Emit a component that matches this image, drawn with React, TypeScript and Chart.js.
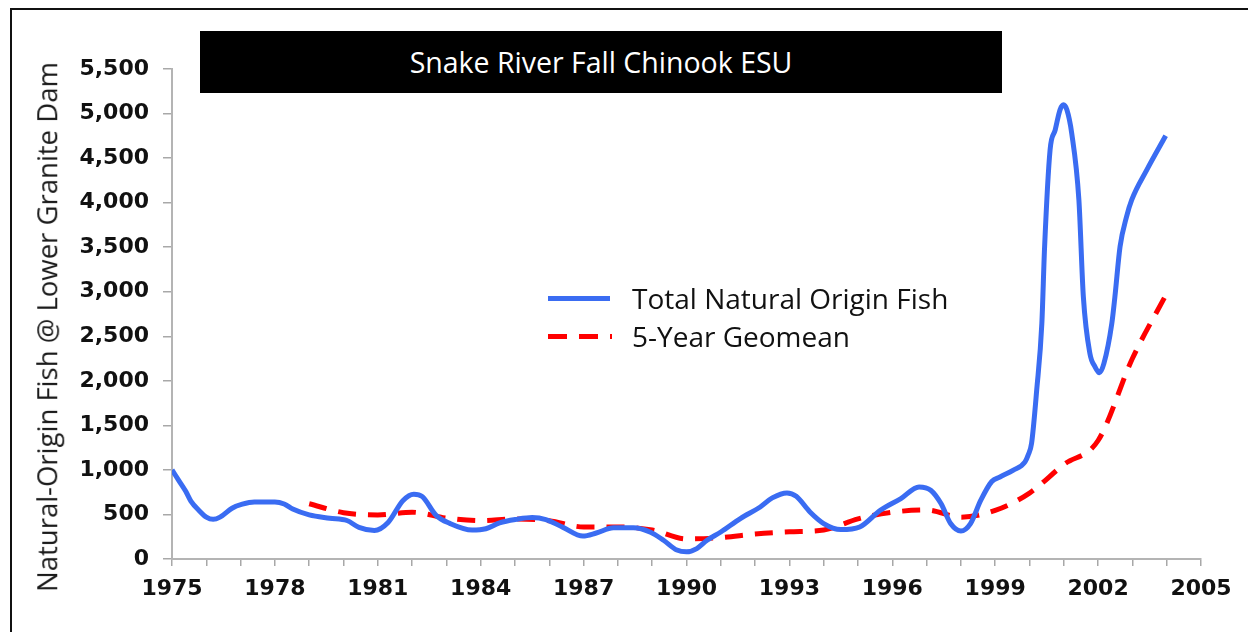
import React, { useEffect, useRef } from "react";
import { Chart, registerables } from "chart.js";

Chart.register(...registerables);

// Total natural-origin fish (fractional years)
const fishYears = [
  1975.0, 1975.2, 1975.4, 1975.55, 1975.8, 1976.0, 1976.2, 1976.4, 1976.75, 1977.05,
  1977.4, 1978.0, 1978.27, 1978.52, 1979.0, 1979.6, 1980.1, 1980.45, 1980.9, 1981.3,
  1981.73, 1982.05, 1982.3, 1982.7, 1983.1, 1983.75, 1984.15, 1984.55, 1985.05, 1985.5,
  1985.9, 1986.4, 1986.98, 1987.37, 1987.87, 1988.45, 1988.95, 1989.33, 1989.72, 1990.0,
  1990.3, 1990.6, 1991.0, 1991.57, 1992.15, 1992.5, 1992.93, 1993.2, 1993.6, 1994.0,
  1994.5, 1995.05, 1995.65, 1996.25, 1996.78, 1997.12, 1997.42, 1997.7, 1998.0, 1998.28,
  1998.58, 1998.9, 1999.14, 1999.53, 1999.87, 1999.96, 2000.06, 2000.21, 2000.36, 2000.44,
  2000.6, 2000.75, 2000.89, 2000.99, 2001.09, 2001.23, 2001.44, 2001.57, 2001.76, 2001.91,
  2002.04, 2002.17, 2002.4, 2002.49, 2002.64, 2002.83, 2002.98, 2003.42, 2003.97,
];
const fishValues = [
  1000, 880, 760, 650, 540, 470, 445, 470, 570, 615,
  640, 640, 618, 560, 495, 458, 432, 355, 320, 410,
  655, 728, 700, 490, 400, 325, 340, 405, 445, 465,
  443, 355, 258, 292, 350, 350, 300, 210, 100, 80,
  117, 210, 303, 454, 584, 686, 742, 704, 528, 398,
  330, 360, 547, 678, 809, 772, 622, 398, 315, 398,
  660, 870, 921, 997, 1090, 1165, 1297, 1896, 2645, 3500,
  4592, 4817, 5042, 5098, 5042, 4780, 4030, 2944, 2308, 2157,
  2090, 2195, 2645, 2944, 3506, 3843, 4030, 4367, 4750,
];

// 5-year geometric mean
const geoYears = [
  1979, 1980, 1981, 1982, 1983, 1984, 1985, 1986, 1987, 1988, 1989, 1990, 1991,
  1992, 1993, 1994, 1995, 1996, 1997, 1998, 1999, 2000, 2001, 2002, 2003, 2004,
];
const geoValues = [
  620, 520, 495, 525, 460, 430, 450, 430, 360, 360, 325, 225, 240,
  280, 305, 325, 450, 525, 550, 470, 545, 740, 1060, 1330, 2250, 2980,
];

const xMin = 1975;
const xMax = 2005;
const yMax = 5500;
const yStep = 500;

const titleText = "Snake River Fall Chinook ESU";
const yTitleText = "Natural-Origin Fish @ Lower Granite Dam";
const seriesNames = ["Total Natural Origin Fish", "5-Year Geomean"];

const BLUE = "rgb(58,108,242)";
const RED = "#ff0000";

export default function App() {
  const canvasRef = useRef<HTMLCanvasElement | null>(null);

  useEffect(() => {
    if (!canvasRef.current) return;
    const chart = new Chart(canvasRef.current, {
      type: "line",
      data: {
        datasets: [
          {
            label: seriesNames[0],
            data: fishYears.map((x, i) => ({ x, y: fishValues[i] })),
            borderColor: BLUE,
            borderWidth: 5,
            pointRadius: 0,
            cubicInterpolationMode: "monotone",
            fill: false,
          },
          {
            label: seriesNames[1],
            data: geoYears.map((x, i) => ({ x, y: geoValues[i] })),
            borderColor: RED,
            borderWidth: 5,
            borderDash: [18, 12],
            pointRadius: 0,
            cubicInterpolationMode: "monotone",
            fill: false,
          },
        ],
      },
      options: {
        animation: false,
        responsive: true,
        maintainAspectRatio: false,
        layout: { padding: { left: 0, right: 47, top: 69, bottom: 0 } },
        plugins: {
          legend: { display: false },
          tooltip: { enabled: false },
          title: { display: false },
        },
        scales: {
          x: {
            type: "linear",
            min: xMin,
            max: xMax,
            afterFit: (scale: any) => {
              scale.height = 73;
            },
            ticks: {
              stepSize: 1,
              autoSkip: false,
              maxRotation: 0,
              maxTicksLimit: 100,
              padding: 10,
              color: "#111",
              font: { family: "'DejaVu Sans'", weight: "bold", size: 22 },
              callback: (v: any) => ((Number(v) - xMin) % 3 === 0 ? String(v) : ""),
            },
            grid: {
              display: true,
              drawOnChartArea: false,
              drawTicks: true,
              tickLength: 7,
              color: "#a8a8a8",
              lineWidth: 1.5,
            },
            border: { display: true, color: "#b4b4b4", width: 2 },
          },
          y: {
            min: 0,
            max: yMax,
            afterFit: (scale: any) => {
              scale.width = 172;
            },
            ticks: {
              stepSize: yStep,
              padding: 14,
              color: "#111",
              font: { family: "'DejaVu Sans'", weight: "bold", size: 22 },
              callback: (v: any) => Number(v).toLocaleString("en-US"),
            },
            grid: {
              display: true,
              drawOnChartArea: false,
              drawTicks: true,
              tickLength: 9,
              color: "#a8a8a8",
              lineWidth: 1.5,
            },
            border: { display: true, color: "#b4b4b4", width: 2 },
          },
        },
      },
    });
    return () => chart.destroy();
  }, []);

  const textFont = "'Open Sans', 'Noto Sans', sans-serif";

  return (
    <div
      style={{
        position: "fixed",
        left: 0,
        top: 0,
        width: 1248,
        height: 632,
        background: "#fff",
        overflow: "hidden",
      }}
    >
      <div
        style={{
          position: "absolute",
          left: 10,
          top: 8,
          width: 1300,
          height: 700,
          borderLeft: "2px solid #111",
          borderTop: "2px solid #111",
        }}
      />
      <canvas ref={canvasRef} style={{ position: "absolute", left: 0, top: 0, width: 1248, height: 632 }} />
      <div
        style={{
          position: "absolute",
          left: 200,
          top: 31,
          width: 802,
          height: 62,
          background: "#000",
          color: "#fff",
          fontFamily: textFont,
          fontSize: 28.5,
          display: "flex",
          alignItems: "center",
          justifyContent: "center",
          whiteSpace: "nowrap",
        }}
      >
        {titleText}
      </div>
      <div
        style={{
          position: "absolute",
          left: 47,
          top: 327,
          transform: "translate(-50%, -50%) rotate(-90deg)",
          fontFamily: textFont,
          fontSize: 27.5,
          color: "#1a1a1a",
          whiteSpace: "nowrap",
          lineHeight: 1,
        }}
      >
        {yTitleText}
      </div>
      <div style={{ position: "absolute", left: 548, top: 296, width: 62, height: 5, background: BLUE }} />
      <div
        style={{
          position: "absolute",
          left: 548,
          top: 334,
          width: 64,
          height: 5,
          background: `repeating-linear-gradient(to right, ${RED} 0 19px, transparent 19px 31px)`,
        }}
      />
      <div
        style={{
          position: "absolute",
          left: 632,
          top: 298,
          transform: "translateY(-50%)",
          fontFamily: textFont,
          fontSize: 28,
          color: "#111",
          whiteSpace: "nowrap",
          lineHeight: 1,
        }}
      >
        {seriesNames[0]}
      </div>
      <div
        style={{
          position: "absolute",
          left: 632,
          top: 336,
          transform: "translateY(-50%)",
          fontFamily: textFont,
          fontSize: 28,
          color: "#111",
          whiteSpace: "nowrap",
          lineHeight: 1,
        }}
      >
        {seriesNames[1]}
      </div>
    </div>
  );
}
